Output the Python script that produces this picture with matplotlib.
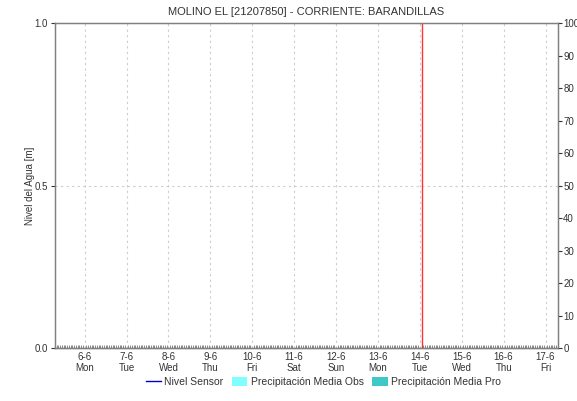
import datetime as dt
import matplotlib
matplotlib.use("Agg")
import matplotlib.pyplot as plt
import matplotlib.dates as mdates
from matplotlib.patches import Patch
from matplotlib.lines import Line2D

title = "MOLINO EL [21207850] - CORRIENTE: BARANDILLAS"
x_start = dt.datetime(2022, 6, 5, 7, 0)
x_end = dt.datetime(2022, 6, 17, 7, 0)
now_time = dt.datetime(2022, 6, 14, 1, 0)

# no data came in for this station
sensor_times = []
sensor_levels = []

level_ticks = [0.0, 0.5, 1.0]
precip_ticks = list(range(0, 101, 10))

plt.rcParams['font.family'] = ['Liberation Sans', 'DejaVu Sans']
txt = '#333333'
spine = '#808080'

fig = plt.figure(figsize=(5.77, 4.01), dpi=100)
ax = fig.add_axes([0.0953, 0.1314, 0.8713, 0.8105])

ax.plot(sensor_times, sensor_levels, color='#0000cc', lw=1)
ax.axvline(now_time, color='#ff3333', lw=1)

ax.set_xlim(x_start, x_end)
ax.set_ylim(0, 1)
ax.set_yticks(level_ticks)
ax.set_yticklabels(['%.1f' % v for v in level_ticks])
ax.set_ylabel('Nivel del Agua [m]', fontsize=7, color=txt, labelpad=0)

ax.xaxis.set_major_locator(mdates.DayLocator())
ax.xaxis.set_minor_locator(mdates.HourLocator())
ax.xaxis.set_major_formatter(mdates.DateFormatter('%-d-%-m\n%a'))
ax.tick_params(axis='x', which='major', length=0, labelsize=7, colors=txt, pad=3)
ax.tick_params(axis='x', which='minor', length=2, direction='in', color='#777777', width=0.6)
ax.tick_params(axis='y', length=3, labelsize=7, colors=txt, width=0.8, pad=2)
for lab in ax.get_xticklabels():
    lab.set_horizontalalignment('center')
    lab.set_linespacing(1.1)

ax.grid(True, which='major', color='#cccccc', ls=(0, (2, 3)), lw=0.8)
for s in ax.spines.values():
    s.set_color(spine)
    s.set_linewidth(1)
ax.spines['bottom'].set_color('#555555')

ax2 = ax.twinx()
ax2.set_ylim(0, 100)
ax2.set_yticks(precip_ticks)
ax2.tick_params(axis='y', length=3, labelsize=7, colors=txt, width=0.8, pad=1)
for s in ax2.spines.values():
    s.set_color(spine)

ax.set_title(title, fontsize=8, color=txt, pad=6)

handles = [Line2D([], [], color='#0000cc', lw=1),
           Patch(facecolor='#80ffff', edgecolor='none'),
           Patch(facecolor='#40c8c8', edgecolor='none')]
labels = ['Nivel Sensor', 'Precipitación Media Obs', 'Precipitación Media Pro']
fig.legend(handles, labels, loc='center', bbox_to_anchor=(0.56, 0.048), ncol=3,
           frameon=False, fontsize=7.5, handlelength=1.5, handleheight=1.0,
           handletextpad=0.3, columnspacing=0.8, labelcolor=txt)

fig.savefig('out.png', dpi=100)
